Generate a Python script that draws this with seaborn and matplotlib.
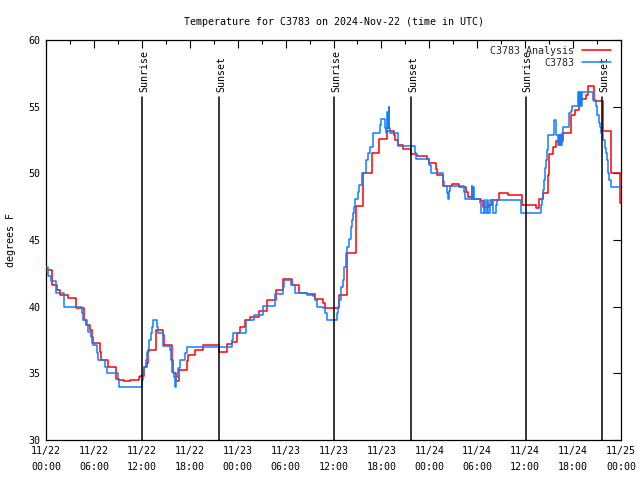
import matplotlib
matplotlib.use("Agg")
import matplotlib.pyplot as plt
import seaborn as sns
import pandas as pd
import numpy as np

# ---- data (hours since 2024-11-22 00:00 UTC, degrees F), step series ----
obs_hours = [0, 0.29, 0.58, 1.25, 2.3, 4.47, 4.6, 5.1, 5.3, 5.6, 5.72, 5.84, 6.43, 6.55, 7.39, 7.6, 9.06, 9.18,
             12.0, 12.1, 12.3, 12.52, 12.69, 12.9, 13.1, 13.32, 13.44, 13.86, 14.0, 14.69, 15.53, 15.61, 15.82,
             16.07, 16.2, 16.3, 16.57, 16.78, 17.4, 17.6, 23.25, 23.46, 25.1, 26.04, 27.22, 28.68, 29.72, 29.8,
             30.64, 31.18, 32.64, 33.48, 33.69, 33.9, 34.73, 34.94, 35.23, 36.4, 36.6, 36.73, 36.9, 37.0, 37.15,
             37.31, 37.52, 37.73, 37.94, 38.15, 38.32, 38.48, 38.61, 38.73, 39.1, 39.24, 39.53, 40.03, 40.36,
             40.57, 40.9, 41.82, 41.9, 42.45, 42.6, 42.74, 42.8, 42.95, 43.0, 43.08, 44.12, 46.2, 46.33, 47.96,
             48.17, 49.67, 49.84, 50.17, 50.34, 50.46, 50.59, 52.34, 52.47, 53.3, 53.39, 53.51, 53.64, 54.35,
             54.47, 54.85, 55.0, 55.18, 55.39, 55.6, 55.93, 56.02, 56.35, 56.43, 59.48, 61.94, 62.15, 62.28,
             62.4, 62.53, 62.61, 62.78, 62.9, 63.65, 63.82, 64.1, 64.2, 64.3, 64.4, 64.5, 64.57, 64.78, 65.53,
             65.7, 65.82, 66.66, 66.8, 66.9, 67.0, 67.1, 68.53, 68.87, 69.04, 69.2, 69.37, 69.54, 69.7, 70.0,
             70.12, 70.29, 70.41, 70.54, 70.7, 72.0]
obs_temps = [43.0, 42.3, 41.95, 41.0, 40.0, 39.5, 39.0, 38.6, 38.1, 37.75, 37.3, 37.1, 36.5, 36.0, 35.5, 35.0, 34.5, 34.0,
             34.5, 35.0, 35.5, 36.0, 36.6, 37.5, 38.0, 38.5, 39.0, 38.5, 38.0, 37.05, 36.75, 36.0, 35.1,
             34.75, 34.0, 34.75, 35.4, 36.0, 36.5, 37.0, 37.5, 38.0, 39.0, 39.4, 40.05, 40.95, 41.5, 42.0,
             41.6, 41.0, 40.9, 40.8, 40.5, 40.0, 39.9, 39.55, 39.0, 39.5, 40.0, 40.5, 41.0, 41.5, 42.0,
             43.0, 44.0, 44.5, 45.1, 46.0, 46.5, 47.0, 47.5, 48.1, 48.6, 49.1, 50.0, 51.0, 51.5,
             52.0, 53.0, 53.6, 54.05, 53.4, 53.0, 54.6, 53.4, 55.0, 53.4, 53.0, 52.05, 51.5, 51.1, 50.6,
             50.0, 49.4, 49.05, 48.5, 48.05, 48.7, 49.05, 48.6, 48.05, 49.05, 48.05, 49.0, 48.05, 47.8,
             47.0, 48.0, 47.0, 48.0, 47.0, 48.0, 47.5, 47.0, 47.6, 48.0, 47.0, 47.6, 48.1, 48.75,
             49.5, 50.4, 51.0, 51.75, 52.9, 54.0, 52.9, 52.1, 52.9, 52.1, 52.9, 52.1, 53.0, 53.5, 54.5,
             54.7, 55.05, 56.1, 55.05, 56.1, 55.05, 56.1, 55.5, 55.05, 54.4, 53.75, 53.5, 53.0, 52.5, 51.9,
             51.5, 51.0, 50.0, 49.5, 49.0, 49.0]

ana_hours = [0, 0.7, 1.4, 1.7, 2.8, 3.7, 4.7, 4.8, 5.0, 5.5, 5.72, 5.84, 6.7, 6.85, 7.8, 8.8, 9.2, 9.8, 10.5,
             11.7, 11.8, 12.27, 12.69, 12.82, 13.73, 14.6, 14.8, 15.73, 15.94, 16.27, 16.69, 17.6, 17.73, 18.65,
             19.7, 21.7, 22.7, 23.25, 23.9, 24.3, 24.9, 25.6, 26.71, 27.71, 28.8, 29.72, 30.76, 31.72, 32.72,
             33.7, 34.65, 34.94, 36.73, 37.73, 38.77, 39.73, 40.78, 41.74, 42.66, 43.62, 43.7, 44.12, 44.74,
             45.7, 46.41, 47.75, 48.0, 48.8, 48.9, 49.67, 49.75, 50.8, 51.76, 52.6, 52.8, 53.43, 54.47, 54.7,
             55.5, 55.8, 56.7, 57.8, 59.6, 61.4, 61.77, 62.28, 62.9, 63.03, 63.53, 63.8, 64.78, 65.7, 66.24,
             66.78, 67.62, 67.9, 68.62, 69.7, 70.75, 71.9, 72.0]
ana_temps = [42.75, 41.6, 41.25, 40.9, 40.65, 39.9, 39.5, 39.0, 38.6, 38.25, 37.75, 37.3, 36.6, 36.0, 35.5, 34.6, 34.5, 34.4, 34.5,
             34.7, 34.8, 35.5, 35.75, 36.75, 38.25, 37.9, 37.1, 36.0, 35.0, 34.4, 35.25, 35.9, 36.4, 36.75,
             37.1, 36.6, 37.2, 37.35, 38.0, 38.5, 39.0, 39.25, 39.7, 40.5, 41.25, 42.05, 41.6, 41.05, 40.95,
             40.55, 40.25, 39.9, 40.9, 44.0, 47.55, 50.0, 51.55, 52.6, 53.2, 52.85, 52.5, 52.1, 51.85,
             51.45, 51.3, 51.05, 50.75, 50.3, 49.9, 49.5, 49.05, 49.2, 49.0, 48.6, 48.2, 48.05, 47.9, 47.5,
             47.6, 48.0, 48.55, 48.4, 47.6, 47.4, 48.1, 48.5, 49.9, 51.45, 52.0, 52.4, 53.0, 54.4, 54.75,
             55.55, 55.9, 56.55, 55.4, 53.15, 50.0, 47.75, 47.75]

event_hours = [12.06, 21.7, 36.1, 45.75, 60.1, 69.66]
event_labels = ["Sunrise", "Sunset", "Sunrise", "Sunset", "Sunrise", "Sunset"]

tick_hours = list(range(0, 73, 6))
tick_labels = ["11/22\n00:00", "11/22\n06:00", "11/22\n12:00", "11/22\n18:00",
               "11/23\n00:00", "11/23\n06:00", "11/23\n12:00", "11/23\n18:00",
               "11/24\n00:00", "11/24\n06:00", "11/24\n12:00", "11/24\n18:00",
               "11/25\n00:00"]

title = "Temperature for C3783 on 2024-Nov-22 (time in UTC)"

# ---- drawing ----
sns.set_theme(style="white")
plt.rcParams['font.family'] = ['DejaVu Sans Mono', 'DejaVu Sans']
FS = 7.2

fig = plt.figure(figsize=(6.4, 4.8), dpi=100)
ax = fig.add_axes([46/640, 40/480, (621-46)/640, 400/480])

ana = pd.DataFrame({"hour": ana_hours, "temp": ana_temps})
obs = pd.DataFrame({"hour": obs_hours, "temp": obs_temps})

sns.lineplot(data=ana, x="hour", y="temp", ax=ax, color="#ff0000", lw=1.1,
             drawstyle="steps-post", estimator=None, label="C3783 Analysis", zorder=3)
sns.lineplot(data=obs, x="hour", y="temp", ax=ax, color="#1080ff", lw=1.1,
             drawstyle="steps-post", estimator=None, label="C3783", zorder=4)

top_frac = (440 - 97) / 400
for h, lab in zip(event_hours, event_labels):
    ax.plot([h, h], [0, top_frac], transform=ax.get_xaxis_transform(), color="black", lw=1.1, zorder=5)
    ax.text(h + 0.2, top_frac + 0.012, lab, rotation=90, ha="center", va="bottom",
            transform=ax.get_xaxis_transform(), fontsize=FS, color="black")

ax.set_xlim(0, 72)
ax.set_ylim(30, 60)
ax.set_xticks(tick_hours)
ax.set_xticklabels(tick_labels, fontsize=FS, linespacing=1.8)
ax.set_xticks(np.arange(3, 72, 6), minor=True)
ax.set_yticks(range(30, 61, 5))
ax.set_yticklabels([str(v) for v in range(30, 61, 5)], fontsize=FS)
ax.tick_params(axis="both", which="major", direction="in", length=6, width=0.8,
               top=True, right=True, color="black", pad=4, labelcolor="black")
ax.tick_params(axis="x", which="minor", direction="in", length=3, width=0.8, top=True, color="black")
ax.set_xlabel("")
ax.set_ylabel("degrees F", fontsize=FS, color="black", labelpad=9)
for s in ax.spines.values():
    s.set_color("black")
    s.set_linewidth(0.9)
ax.set_title(title, fontsize=FS, color="black", pad=11)

leg = ax.legend(loc="upper right", bbox_to_anchor=(1 - 3/575, 1 + 1/400), frameon=False,
                markerfirst=False, fontsize=FS, handlelength=2.9, handletextpad=0.8,
                labelspacing=0.2, borderaxespad=0.5, borderpad=0.2)
for t in leg.get_texts():
    t.set_ha("right")

fig.savefig("out.png", dpi=100)
